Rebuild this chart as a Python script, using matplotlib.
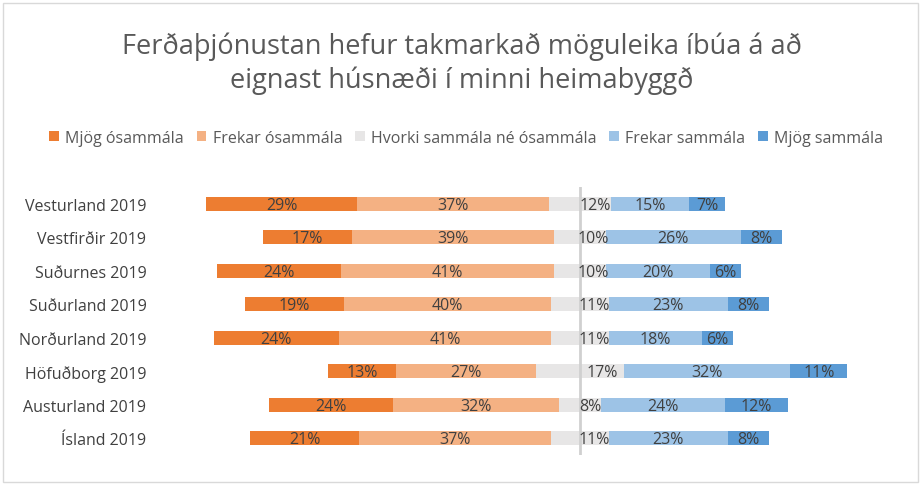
import matplotlib
matplotlib.use("Agg")
import matplotlib.pyplot as plt
from matplotlib.patches import Rectangle, Patch
import numpy as np

plt.rcParams['font.family'] = ['Open Sans', 'DejaVu Sans']

categories = ["Vesturland 2019", "Vestfirðir 2019", "Suðurnes 2019", "Suðurland 2019",
              "Norðurland 2019", "Höfuðborg 2019", "Austurland 2019", "Ísland 2019"]
series_names = ["Mjög ósammála", "Frekar ósammála", "Hvorki sammála né ósammála",
                "Frekar sammála", "Mjög sammála"]
mjog_osammala = [29, 17, 24, 19, 24, 13, 24, 21]
frekar_osammala = [37, 39, 41, 40, 41, 27, 32, 37]
hvorki = [12, 10, 10, 11, 11, 17, 8, 11]
frekar_sammala = [15, 26, 20, 23, 18, 32, 24, 23]
mjog_sammala = [7, 8, 6, 8, 6, 11, 12, 8]

colors = ["#ED7D31", "#F4B183", "#E7E6E6", "#9DC3E6", "#5B9BD5"]
txt_col = "#404040"

W, H = 923, 485
fig = plt.figure(figsize=(W / 100, H / 100), dpi=100)
ax = fig.add_axes([152 / W, 1 - 456 / H, (900 - 152) / W, (456 - 188) / H])

pxper = 5.19
xl = (152 - 580) / pxper
xr = (900 - 580) / pxper
ax.set_xlim(xl, xr)
ax.set_ylim(len(categories) - 0.5, -0.5)

y = np.arange(len(categories))
h = 0.42
mo = np.array(mjog_osammala, float)
fo = np.array(frekar_osammala, float)
hv = np.array(hvorki, float)
fs = np.array(frekar_sammala, float)
ms = np.array(mjog_sammala, float)

segs = [
    (-(hv / 2 + fo + mo), mo, colors[0]),
    (-(hv / 2 + fo), fo, colors[1]),
    (-(hv / 2), hv / 2, colors[2]),
    (np.zeros_like(hv), hv / 2, colors[2]),
    (hv / 2, fs, colors[3]),
    (hv / 2 + fs, ms, colors[4]),
]
for left, width, c in segs:
    ax.barh(y, width, left=left, height=h, color=c, edgecolor="none", zorder=2)

fs_lab = 11.5
def lab(xc, vals):
    for yi, (x, v) in enumerate(zip(xc, vals)):
        ax.text(x, yi + 0.03, f"{int(v)}%", ha="center", va="center",
                fontsize=fs_lab, color=txt_col, zorder=4)

lab(-(hv / 2 + fo + mo / 2), mo)
lab(-(hv / 2 + fo / 2), fo)
lab(hv / 4, hv)
lab(hv / 2 + fs / 2, fs)
lab(hv / 2 + fs + ms / 2, ms)

ax.axvline(0, color="#D0D0D0", lw=2, zorder=3)

ax.set_yticks(y)
ax.set_yticklabels(categories, fontsize=11.5, color=txt_col)
ax.tick_params(axis="y", length=0, pad=4)
ax.set_xticks([])
for s in ax.spines.values():
    s.set_visible(False)

fig.text(0.5, 1 - 47 / H, "Ferðaþjónustan hefur takmarkað möguleika íbúa á að",
         ha="center", va="center", fontsize=19.5, color="#595959")
fig.text(0.5, 1 - 81 / H, "eignast húsnæði í minni heimabyggð",
         ha="center", va="center", fontsize=19.5, color="#595959")

handles = [Patch(facecolor=c, edgecolor="none") for c in colors]
leg = fig.legend(handles, series_names, loc="center", ncol=5,
                 bbox_to_anchor=(0.505, 1 - 139 / H), frameon=False,
                 fontsize=11.5, handlelength=0.6, handleheight=0.6,
                 handletextpad=0.4, columnspacing=0.8)
for t in leg.get_texts():
    t.set_color("#595959")

fig.patches.append(Rectangle((3 / W, 2 / H), (918 - 3) / W, (483 - 4) / H,
                             transform=fig.transFigure, fill=False,
                             edgecolor="#D9D9D9", lw=1))

fig.savefig("out.png", dpi=100)
